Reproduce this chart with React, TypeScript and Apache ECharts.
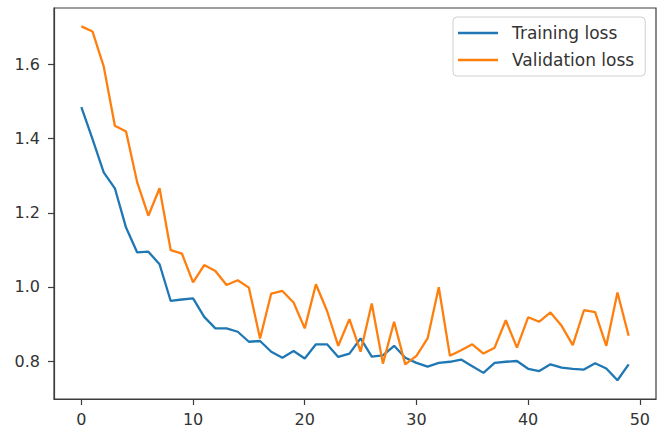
import React, { useEffect, useRef } from "react";
import * as echarts from "echarts";

const epochs: number[] = Array.from({ length: 50 }, (_, i) => i);

const trainingLoss: number[] = [
  1.485, 1.399, 1.309, 1.266, 1.16, 1.093, 1.095, 1.061, 0.962, 0.966,
  0.969, 0.919, 0.888, 0.888, 0.879, 0.852, 0.854, 0.825, 0.809, 0.827,
  0.807, 0.845, 0.845, 0.811, 0.82, 0.861, 0.812, 0.815, 0.841, 0.809,
  0.795, 0.785, 0.795, 0.798, 0.804, 0.786, 0.768, 0.795, 0.798, 0.8,
  0.779, 0.773, 0.791, 0.782, 0.779, 0.777, 0.794, 0.78, 0.748, 0.791,
];

const validationLoss: number[] = [
  1.703, 1.689, 1.595, 1.435, 1.419, 1.282, 1.192, 1.266, 1.099, 1.09,
  1.012, 1.059, 1.043, 1.005, 1.018, 0.998, 0.861, 0.982, 0.989, 0.958,
  0.888, 1.007, 0.935, 0.841, 0.913, 0.825, 0.955, 0.793, 0.906, 0.791,
  0.814, 0.861, 0.999, 0.814, 0.829, 0.845, 0.82, 0.836, 0.91, 0.836,
  0.918, 0.906, 0.931, 0.895, 0.843, 0.937, 0.932, 0.841, 0.985, 0.868,
];

const xTicks: number[] = [0, 10, 20, 30, 40, 50];
const yTicks: number[] = [0.8, 1.0, 1.2, 1.4, 1.6];

const seriesNames = ["Training loss", "Validation loss"];
const colors = ["#1f77b4", "#ff7f0e"];

export default function App() {
  const ref = useRef<HTMLDivElement>(null);

  useEffect(() => {
    if (!ref.current) return;
    const chart = echarts.init(ref.current, undefined, { renderer: "svg" });
    const spine = "#3c3c3c";
    const font = "DejaVu Sans";
    chart.setOption({
      animation: false,
      backgroundColor: "#ffffff",
      grid: {
        left: 54,
        top: 8,
        width: 602,
        height: 391,
        show: true,
        borderColor: spine,
        borderWidth: 1.2,
        backgroundColor: "transparent",
      },
      legend: {
        left: 453,
        top: 17,
        orient: "vertical",
        icon: "rect",
        itemWidth: 40,
        itemHeight: 2.5,
        itemGap: 7,
        padding: [6, 11, 6, 5],
        backgroundColor: "rgba(255,255,255,0.8)",
        borderColor: "#d0d0d0",
        borderWidth: 1,
        borderRadius: 4,
        textStyle: {
          fontFamily: font,
          fontSize: 17,
          color: "#333333",
          lineHeight: 20,
          padding: [0, 0, 0, 9],
        },
        data: seriesNames,
      },
      xAxis: {
        type: "value",
        min: -2.45,
        max: 51.45,
        splitLine: { show: false },
        axisLine: { show: true, onZero: false, lineStyle: { color: spine, width: 1.2 } },
        axisTick: {
          show: true,
          length: 6,
          customValues: xTicks,
          lineStyle: { color: spine, width: 1.2 },
        },
        axisLabel: {
          customValues: xTicks,
          margin: 12,
          fontFamily: font,
          fontSize: 16,
          color: "#333333",
        },
      },
      yAxis: {
        type: "value",
        min: 0.6975,
        max: 1.7525,
        splitLine: { show: false },
        axisLine: { show: true, onZero: false, lineStyle: { color: spine, width: 1.2 } },
        axisTick: {
          show: true,
          length: 6,
          customValues: yTicks,
          lineStyle: { color: spine, width: 1.2 },
        },
        axisLabel: {
          customValues: yTicks,
          margin: 14,
          fontFamily: font,
          fontSize: 16,
          color: "#333333",
          formatter: (v: number) => v.toFixed(1),
        },
      },
      series: [
        {
          name: seriesNames[0],
          type: "line",
          data: epochs.map((e, i) => [e, trainingLoss[i]]),
          showSymbol: false,
          symbol: "none",
          color: colors[0],
          lineStyle: { color: colors[0], width: 2.3 },
        },
        {
          name: seriesNames[1],
          type: "line",
          data: epochs.map((e, i) => [e, validationLoss[i]]),
          showSymbol: false,
          symbol: "none",
          color: colors[1],
          lineStyle: { color: colors[1], width: 2.3 },
        },
      ],
    });
    return () => chart.dispose();
  }, []);

  return (
    <div
      ref={ref}
      style={{ position: "fixed", left: 0, top: 0, width: 669, height: 437, background: "#fff" }}
    />
  );
}
